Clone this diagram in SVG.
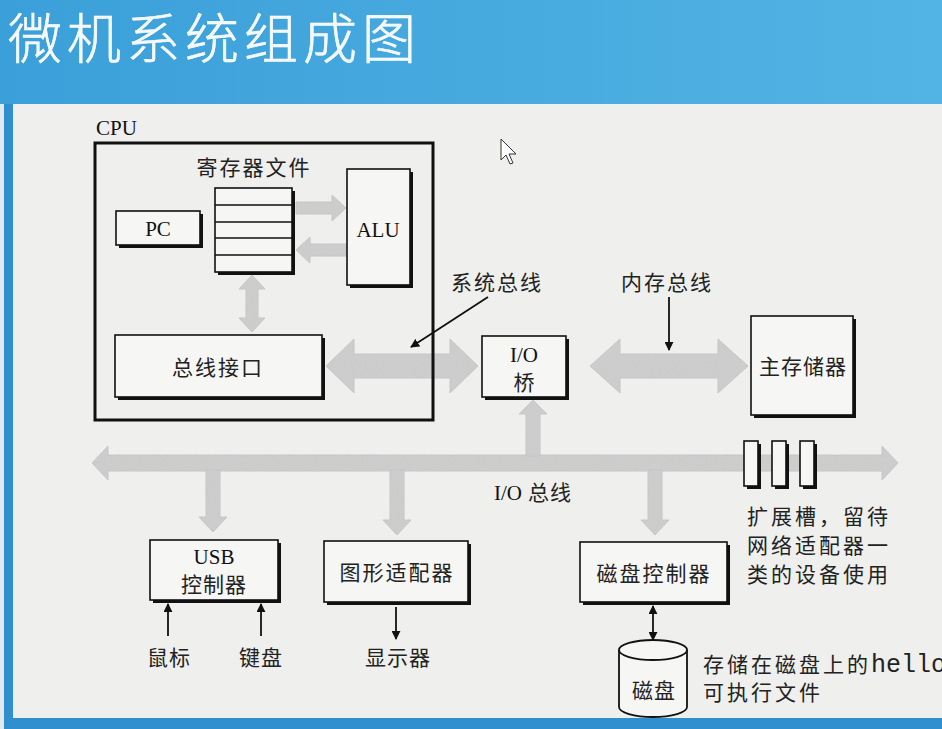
<svg xmlns="http://www.w3.org/2000/svg" width="942" height="729" viewBox="0 0 942 729">
<defs>
<linearGradient id="hdr" x1="0" y1="0" x2="1" y2="0">
<stop offset="0" stop-color="#3b9fd9"/>
<stop offset="1" stop-color="#52b4e4"/>
</linearGradient>
<filter id="grain" x="-5%" y="-5%" width="110%" height="110%">
<feTurbulence type="fractalNoise" baseFrequency="0.7" numOctaves="2" seed="3" result="n"/>
<feColorMatrix in="n" type="matrix" values="0 0 0 0 0.6  0 0 0 0 0.6  0 0 0 0 0.6  0 0 0 1.6 -0.45" result="g"/>
<feComposite in="g" in2="SourceGraphic" operator="in" result="t"/>
<feMerge><feMergeNode in="SourceGraphic"/><feMergeNode in="t"/></feMerge>
</filter>
<marker id="ah" viewBox="0 0 10 10" refX="9" refY="5" markerWidth="9" markerHeight="9" markerUnits="userSpaceOnUse" orient="auto-start-reverse">
<path d="M0,0 L10,5 L0,10 Z" fill="#111"/>
</marker>
</defs>
<style>
.box{fill:#f6f6f4;stroke:#111;stroke-width:1.6}
.sh{fill:#111}
.cjk{font-family:"Noto Sans CJK SC","Liberation Sans",sans-serif;fill:#222;font-size:21px}
.lat{font-family:"Liberation Serif","Noto Sans CJK SC",serif;fill:#111;font-size:21px}
.fat{fill:#cdcdcd;stroke:#c2c2c2;stroke-width:0.8;filter:url(#grain)}
.thin{stroke:#111;stroke-width:1.8;fill:none}
</style>
<!-- background -->
<rect x="0" y="0" width="942" height="729" fill="#2f8fcf"/>
<rect x="0" y="0" width="942" height="104" fill="url(#hdr)"/>
<rect x="0" y="104" width="4" height="625" fill="#dfe9ef"/>
<rect x="13" y="104" width="929" height="614" fill="#efefed"/>
<text x="8" y="59" font-family="'Noto Sans CJK SC',sans-serif" font-weight="300" font-size="54" fill="#f4f8fb" stroke="#ffffff" stroke-width="0.6" letter-spacing="5">微机系统组成图</text>
<!-- cursor -->
<path d="M501,139 L501,160 L506,155 L510,164 L513,163 L509,154 L516,154 Z" fill="#fff" stroke="#333" stroke-width="1"/>

<!-- connectors -->
<g id="connectors">
<path class="fat" d="M296,202 L332,202 L332,195 L346,208 L332,221 L332,214 L296,214 Z"/>
<path class="fat" d="M346,244 L310,244 L310,237 L296,250 L310,263 L310,256 L346,256 Z"/>
<path class="fat" d="M252,275 L265,289 L258,289 L258,318 L265,318 L252,332 L239,318 L246,318 L246,289 L239,289 Z"/>
<path class="fat" d="M326,366 L354,339 L354,354 L450,354 L450,339 L478,366 L450,393 L450,378 L354,378 L354,393 Z"/>
<path class="fat" d="M590,366 L620,339 L620,354 L718,354 L718,339 L748,366 L718,393 L718,378 L620,378 L620,393 Z"/>
<path class="fat" d="M92,463 L108,446 L108,455 L882,455 L882,446 L898,463 L882,480 L882,471 L108,471 L108,480 Z"/>
<path class="fat" d="M533,400 L547,414 L540,414 L540,456 L526,456 L526,414 L519,414 Z"/>
<path class="fat" d="M206,470 L220,470 L220,517 L227,517 L213,532 L199,517 L206,517 Z"/>
<path class="fat" d="M390,470 L404,470 L404,520 L411,520 L397,535 L383,520 L390,520 Z"/>
<path class="fat" d="M648,470 L662,470 L662,520 L669,520 L655,535 L641,520 L648,520 Z"/>
<line class="thin" x1="488" y1="297" x2="411" y2="347" marker-end="url(#ah)"/>
<line class="thin" x1="669" y1="297" x2="669" y2="350" marker-end="url(#ah)"/>
<line class="thin" x1="168" y1="636" x2="168" y2="604" marker-end="url(#ah)"/>
<line class="thin" x1="261" y1="636" x2="261" y2="604" marker-end="url(#ah)"/>
<line class="thin" x1="396" y1="607" x2="396" y2="639" marker-end="url(#ah)"/>
<line class="thin" x1="653" y1="606" x2="653" y2="640" marker-start="url(#ah)" marker-end="url(#ah)"/>
</g>

<g id="cpu">
<text class="lat" x="96" y="135" font-size="20">CPU</text>
<rect x="95" y="143" width="338" height="277" fill="none" stroke="#111" stroke-width="3"/>
</g>
<g id="regfile">
<text class="cjk" x="254" y="175" text-anchor="middle" letter-spacing="2">寄存器文件</text>
<rect class="sh" x="218" y="191" width="77" height="84"/>
<rect class="box" x="215" y="188" width="77" height="84"/>
<path d="M215,205 H292 M215,222 H292 M215,238 H292 M215,255 H292" stroke="#111" stroke-width="1.4"/>
</g>
<g id="pc">
<rect class="sh" x="119" y="214" width="84" height="34"/>
<rect class="box" x="116" y="211" width="84" height="34"/>
<text class="lat" x="158" y="236" text-anchor="middle">PC</text>
</g>
<g id="alu">
<rect class="sh" x="350" y="172" width="63" height="116"/>
<rect class="box" x="347" y="169" width="63" height="116"/>
<text class="lat" x="378" y="237" text-anchor="middle">ALU</text>
</g>
<g id="bus-interface">
<rect class="sh" x="118" y="338" width="207" height="62"/>
<rect class="box" x="115" y="335" width="207" height="62"/>
<text class="cjk" x="218" y="375" text-anchor="middle" letter-spacing="2">总线接口</text>
</g>
<g id="sysbus-label">
<text class="cjk" x="497" y="290" text-anchor="middle" letter-spacing="2">系统总线</text>
</g>
<g id="membus-label">
<text class="cjk" x="667" y="290" text-anchor="middle" letter-spacing="2">内存总线</text>
</g>
<g id="io-bridge">
<rect class="sh" x="485" y="339" width="84" height="61"/>
<rect class="box" x="482" y="336" width="84" height="61"/>
<text class="lat" x="524" y="362" text-anchor="middle">I/O</text>
<text class="cjk" x="524" y="390" text-anchor="middle">桥</text>
</g>
<g id="main-memory">
<rect class="sh" x="754" y="319" width="102" height="99"/>
<rect class="box" x="751" y="316" width="102" height="99"/>
<text class="cjk" x="803" y="374" text-anchor="middle" letter-spacing="1">主存储器</text>
</g>
<g id="iobus-label">
<text x="533" y="500" text-anchor="middle"><tspan class="lat" font-size="20">I/O</tspan><tspan class="cjk" dx="6" letter-spacing="1">总线</tspan></text>
</g>
<g id="slots">
<rect class="sh" x="747" y="444" width="14" height="45"/>
<rect class="box" x="744" y="441" width="14" height="45"/>
<rect class="sh" x="775" y="444" width="14" height="45"/>
<rect class="box" x="772" y="441" width="14" height="45"/>
<rect class="sh" x="803" y="444" width="14" height="45"/>
<rect class="box" x="800" y="441" width="14" height="45"/>
<text class="cjk" x="747" letter-spacing="3"><tspan x="747" y="524">扩展槽，留待</tspan><tspan x="747" y="553">网络适配器一</tspan><tspan x="747" y="582">类的设备使用</tspan></text>
</g>
<g id="usb">
<rect class="sh" x="153" y="543" width="128" height="60"/>
<rect class="box" x="150" y="540" width="128" height="60"/>
<text class="lat" x="214" y="564" text-anchor="middle">USB</text>
<text class="cjk" x="214" y="592" text-anchor="middle" letter-spacing="1">控制器</text>
</g>
<g id="graphics">
<rect class="sh" x="327" y="544" width="144" height="61"/>
<rect class="box" x="324" y="541" width="144" height="61"/>
<text class="cjk" x="397" y="580" text-anchor="middle" letter-spacing="2">图形适配器</text>
</g>
<g id="disk-controller">
<rect class="sh" x="583" y="545" width="147" height="60"/>
<rect class="box" x="580" y="542" width="147" height="60"/>
<text class="cjk" x="654" y="581" text-anchor="middle" letter-spacing="2">磁盘控制器</text>
</g>
<g id="mouse"><text class="cjk" x="169" y="665" text-anchor="middle" letter-spacing="1">鼠标</text></g>
<g id="keyboard"><text class="cjk" x="261" y="665" text-anchor="middle" letter-spacing="1">键盘</text></g>
<g id="display"><text class="cjk" x="398" y="665" text-anchor="middle" letter-spacing="1">显示器</text></g>
<g id="disk">
<path d="M619,650 L619,707 A34,10 0 0 0 687,707 L687,650" fill="#f6f6f4" stroke="#111" stroke-width="1.8"/>
<ellipse cx="653" cy="650" rx="34" ry="10" fill="#f6f6f4" stroke="#111" stroke-width="1.8"/>
<text class="cjk" x="654" y="698" text-anchor="middle" letter-spacing="1">磁盘</text>
</g>
<g id="disk-note">
<text x="703" y="672"><tspan class="cjk" letter-spacing="3">存储在磁盘上的</tspan><tspan font-family="'Liberation Mono',monospace" font-size="25" fill="#222">hello</tspan></text>
<text class="cjk" x="703" y="700" letter-spacing="3">可执行文件</text>
</g>
</svg>
